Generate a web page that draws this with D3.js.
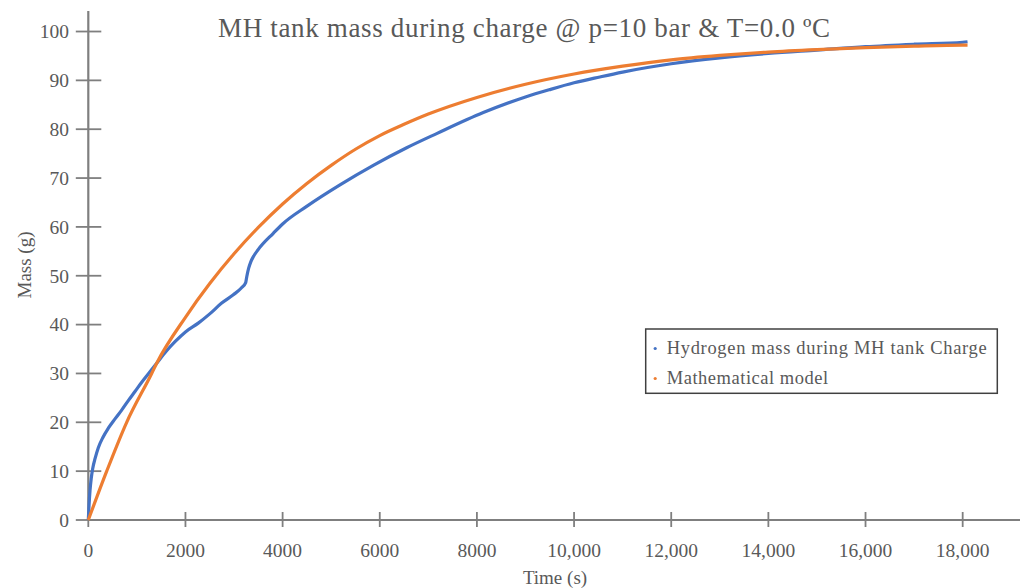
<!DOCTYPE html>
<html>
<head>
<meta charset="utf-8">
<script src="https://cdn.jsdelivr.net/npm/d3@7"></script>
<style>
  html, body { margin: 0; padding: 0; background: #ffffff; }
  svg { display: block; }
  text { font-family: "Liberation Serif", "DejaVu Serif", serif; fill: #595959; }
</style>
</head>
<body>
<svg id="chart" width="1025" height="588"></svg>
<script>
// ---- data ----
const titleText = "MH tank mass during charge @ p=10 bar & T=0.0 ºC";
const xLabel = "Time (s)";
const yLabel = "Mass (g)";
const xTicks = [0, 2000, 4000, 6000, 8000, 10000, 12000, 14000, 16000, 18000];
const yTicks = [0, 10, 20, 30, 40, 50, 60, 70, 80, 90, 100];
const seriesNames = ["Hydrogen mass during MH tank Charge", "Mathematical model"];
const seriesColors = ["#4472C4", "#ED7D31"];

// measured hydrogen mass (time s, mass g)
const measuredTime = [0, 15, 35, 60, 90, 140, 206, 300, 412, 550, 687, 820, 961, 1100, 1250, 1408, 1600, 1785, 2000, 2264, 2500, 2746, 2985, 3150, 3240, 3262, 3300, 3343, 3397, 3500, 3808, 4000, 4495, 5181, 5867, 6554, 7171, 8131, 9000, 9497, 10000, 10530, 11000, 12000, 13000, 14000, 15000, 16000, 17000, 18000, 18100];
const measuredMass = [0, 3, 6, 8.5, 10.5, 12.6, 14.8, 16.9, 18.8, 20.7, 22.5, 24.4, 26.3, 28.2, 30.1, 32.1, 34.5, 36.5, 38.5, 40.3, 42.2, 44.4, 46.1, 47.5, 48.6, 49.8, 51.5, 52.8, 53.9, 55.4, 58.7, 60.6, 64.2, 68.6, 72.6, 76.2, 79.1, 83.4, 86.6, 88.1, 89.5, 90.7, 91.7, 93.4, 94.6, 95.5, 96.2, 96.9, 97.4, 97.8, 97.9];

// mathematical model (time s, mass g)
const modelTime = [0, 379, 790, 1305, 1408, 2000, 2500, 3000, 3500, 4000, 4500, 5000, 5500, 6000, 6500, 7000, 8000, 9000, 10000, 11000, 12000, 13000, 14000, 15000, 16000, 17000, 18000, 18100];
const modelMass = [0, 10, 20, 30, 32.1, 41.5, 48.4, 54.5, 59.9, 64.7, 68.9, 72.6, 75.9, 78.7, 81.0, 83.1, 86.5, 89.2, 91.3, 92.9, 94.2, 95.1, 95.8, 96.3, 96.7, 97.0, 97.2, 97.2];

// ---- drawing ----
const svg = d3.select("#chart");
const axisColor = "#7f7f7f";

const x = d3.scaleLinear().domain([0, 19180]).range([88.3, 1020]);
const y = d3.scaleLinear().domain([0, 104.2]).range([520, 11]);

// title
svg.append("text")
  .attr("x", 524).attr("y", 37)
  .attr("text-anchor", "middle")
  .attr("font-size", 27)
  .attr("textLength", 612).attr("lengthAdjust", "spacing")
  .text(titleText);

// axes lines
svg.append("line")
  .attr("x1", x(0)).attr("x2", x(0))
  .attr("y1", y.range()[1]).attr("y2", y(0))
  .attr("stroke", axisColor).attr("stroke-width", 2.2);
svg.append("line")
  .attr("x1", x(0)).attr("x2", x.range()[1])
  .attr("y1", y(0)).attr("y2", y(0))
  .attr("stroke", axisColor).attr("stroke-width", 2.2);

// y ticks
svg.selectAll(".ytick").data(yTicks).join("line")
  .attr("x1", x(0) - 12.5).attr("x2", x(0) + 13)
  .attr("y1", d => y(d)).attr("y2", d => y(d))
  .attr("stroke", axisColor).attr("stroke-width", 1.8);
svg.selectAll(".ylab").data(yTicks).join("text")
  .attr("x", 69).attr("y", d => y(d) + 6.8)
  .attr("text-anchor", "end")
  .attr("font-size", 19.5)
  .text(d => d);

// x ticks
const fmtX = d => d >= 10000 ? d3.format(",")(d) : String(d);
svg.selectAll(".xtick").data(xTicks).join("line")
  .attr("x1", d => x(d)).attr("x2", d => x(d))
  .attr("y1", y(0) - 8).attr("y2", y(0) + 7)
  .attr("stroke", axisColor).attr("stroke-width", 1.8);
svg.selectAll(".xlab").data(xTicks).join("text")
  .attr("x", d => x(d)).attr("y", 556.5)
  .attr("text-anchor", "middle")
  .attr("font-size", 19.5)
  .text(fmtX);

// axis labels
svg.append("text")
  .attr("transform", "translate(31,265) rotate(-90)")
  .attr("text-anchor", "middle")
  .attr("font-size", 19)
  .text(yLabel);
svg.append("text")
  .attr("x", 555).attr("y", 584)
  .attr("text-anchor", "middle")
  .attr("font-size", 19)
  .text(xLabel);

// lines
const line = d3.line().x(d => x(d[0])).y(d => y(d[1])).curve(d3.curveMonotoneX);
const modelData = modelTime.map((t, i) => [t, modelMass[i]]);
const measuredData = measuredTime.map((t, i) => [t, measuredMass[i]]);

svg.append("path").datum(measuredData)
  .attr("d", line).attr("fill", "none")
  .attr("stroke", seriesColors[0]).attr("stroke-width", 3.2)
  .attr("stroke-linejoin", "round");
svg.append("path").datum(modelData)
  .attr("d", line).attr("fill", "none")
  .attr("stroke", seriesColors[1]).attr("stroke-width", 3.2)
  .attr("stroke-linejoin", "round");

// legend
const legendWidths = [320, 161.5];
const lg = svg.append("g").attr("transform", "translate(645.7,329)");
lg.append("rect").attr("width", 351.6).attr("height", 64.3)
  .attr("fill", "#ffffff").attr("stroke", "#404040").attr("stroke-width", 1.5);
const items = lg.selectAll(".item").data(seriesNames).join("g")
  .attr("transform", (d, i) => `translate(0,${i * 30})`);
items.append("circle").attr("cx", 9.5).attr("cy", 19.5).attr("r", 1.6)
  .attr("fill", (d, i) => seriesColors[i]);
items.append("text").attr("x", 21).attr("y", 24.5)
  .attr("font-size", 18.5)
  .attr("textLength", (d, i) => legendWidths[i]).attr("lengthAdjust", "spacing")
  .text(d => d);
</script>
</body>
</html>
